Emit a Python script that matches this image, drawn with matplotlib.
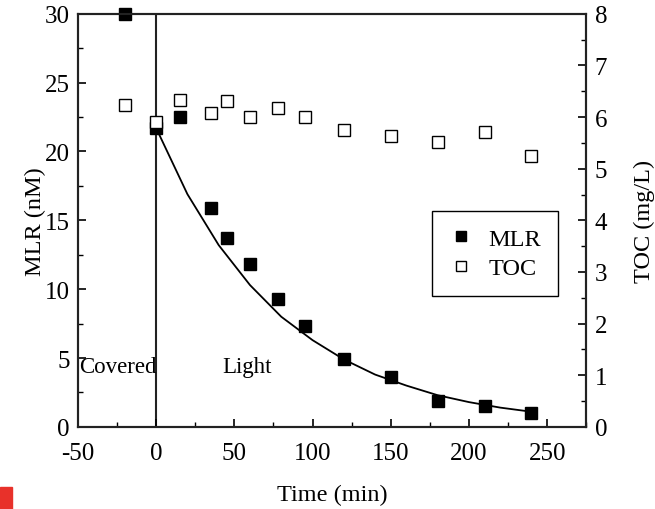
import matplotlib
matplotlib.use("Agg")
import matplotlib.pyplot as plt
from matplotlib.lines import Line2D
from matplotlib.patches import Rectangle
from matplotlib.ticker import MultipleLocator

# sampling times (min) and measurements
time_min = [-20, 0, 15, 35, 45, 60, 78, 95, 120, 150, 180, 210, 240]
mlr_nm = [30.0, 21.7, 22.5, 15.9, 13.7, 11.8, 9.3, 7.3, 4.9, 3.6, 1.9, 1.5, 1.0]
toc_mgl = [6.24, 5.91, 6.34, 6.08, 6.32, 6.01, 6.18, 6.01, 5.74, 5.63, 5.52, 5.71, 5.25]

# first-order decay fit through the light period
fit_time = [0, 20, 40, 60, 80, 100, 120, 140, 160, 180, 200, 220, 240]
fit_mlr = [21.7, 16.9, 13.2, 10.3, 8.0, 6.3, 4.9, 3.8, 3.0, 2.3, 1.8, 1.4, 1.1]

plt.rcParams['font.family'] = ['Liberation Serif', 'DejaVu Serif']
plt.rcParams['font.size'] = 18
plt.rcParams['axes.unicode_minus'] = False

fig = plt.figure(figsize=(6.55, 5.1), dpi=100)
ax = fig.add_axes([0.119, 0.161, 0.776, 0.81])
ax2 = ax.twinx()

ax.plot(fit_time, fit_mlr, color="black", lw=1.3, zorder=2)
ax.axvline(0, color="#222222", lw=1.5, zorder=1)
ax.plot(time_min, mlr_nm, "s", color="black", ms=8, zorder=3, clip_on=False)
ax2.plot(time_min, toc_mgl, "s", mfc="white", mec="black", mew=1.0, ms=8, zorder=3)

ax.text(-49.5, 4.4, "Covered", fontsize=16.5, va="center", ha="left")
ax.text(42, 4.4, "Light", fontsize=16.5, va="center", ha="left")

ax.set_xlim(-50, 275)
ax.set_ylim(0, 30)
ax2.set_ylim(0, 8)

ax.xaxis.set_major_locator(MultipleLocator(50))
ax.xaxis.set_minor_locator(MultipleLocator(25))
ax.yaxis.set_major_locator(MultipleLocator(5))
ax.yaxis.set_minor_locator(MultipleLocator(2.5))
ax2.yaxis.set_major_locator(MultipleLocator(1))
ax2.yaxis.set_minor_locator(MultipleLocator(0.5))

for a in (ax, ax2):
    a.tick_params(which="major", direction="in", length=6, width=1.2, labelsize=18)
    a.tick_params(which="minor", direction="in", length=3.5, width=1.0)
    for s in a.spines.values():
        s.set_linewidth(1.5)
        s.set_color("#222222")
ax.tick_params(axis="x", pad=11)
ax.tick_params(axis="y", pad=6)
ax2.tick_params(axis="y", pad=6)

ax.set_xlabel("Time (min)", fontsize=17.5, labelpad=14)
ax.set_ylabel("MLR (nM)", fontsize=17.5, labelpad=-1)
ax2.set_ylabel("TOC (mg/L)", fontsize=17.5, labelpad=19)

handles = [
    Line2D([], [], ls="none", marker="s", color="black", ms=7),
    Line2D([], [], ls="none", marker="s", mfc="white", mec="black", mew=1.0, ms=7),
]
leg = ax2.legend(handles, ["MLR", "TOC"], loc="upper left",
                 bbox_to_anchor=(0.697, 0.523), borderaxespad=0, fancybox=False,
                 edgecolor="black", framealpha=1, fontsize=17.5,
                 borderpad=0.7, handletextpad=0.6, labelspacing=0.3,
                 handlelength=1.0)
leg.get_frame().set_linewidth(1.0)

fig.patches.append(Rectangle((0, 0), 12 / 655, 22 / 510, transform=fig.transFigure,
                             color="#e8312a", zorder=5))

fig.savefig("out.png", dpi=100)
